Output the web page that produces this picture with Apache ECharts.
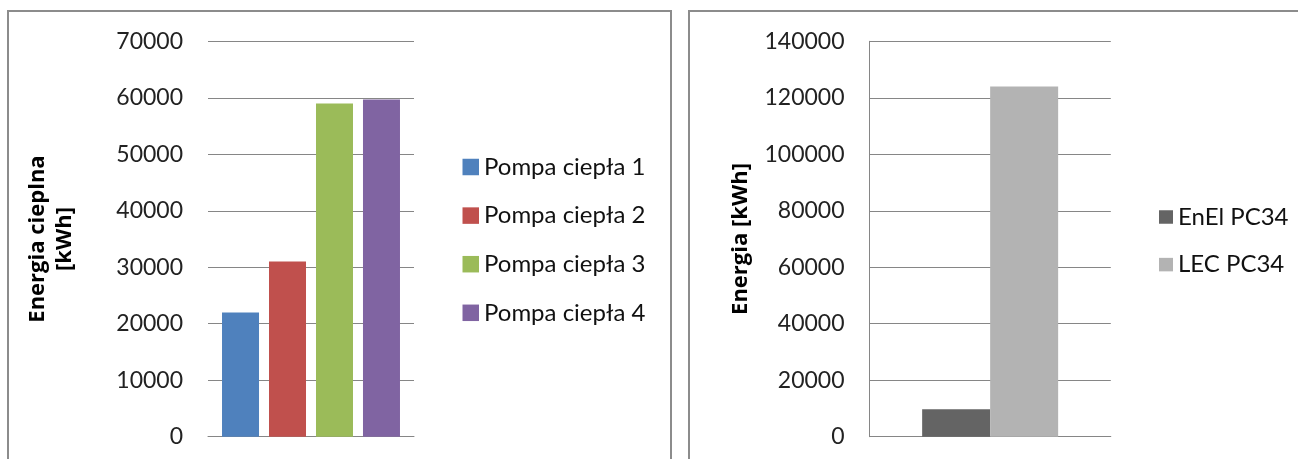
<!DOCTYPE html>
<html><head><meta charset="utf-8">
<script src="https://cdn.jsdelivr.net/npm/echarts@6/dist/echarts.min.js"></script>
<style>html,body{margin:0;padding:0;background:#fff}#c{width:1298px;height:459px}</style>
</head><body><div id="c"></div>
<script>
const pumpNames = ['Pompa ciepła 1','Pompa ciepła 2','Pompa ciepła 3','Pompa ciepła 4'];
const pumpValues = [22000, 31000, 59000, 59700];
const pumpColors = ['#4F81BD','#C0504D','#9BBB59','#8064A2'];
const energyNames = ['EnEl PC34','LEC PC34'];
const energyValues = [9700, 124000];
const energyColors = ['#646464','#B3B3B3'];
const leftAxisName = 'Energia cieplna\n[kWh]';
const rightAxisName = 'Energia [kWh]';

const FONT = 'Lato';
const NAMEFONT = 'Open Sans';
const grid = '#868686';
const series = [];
pumpNames.forEach((n,i)=>series.push({name:n,type:'bar',xAxisIndex:0,yAxisIndex:0,data:[pumpValues[i]],
  barWidth:37,barGap:'27%',itemStyle:{color:pumpColors[i]}}));
energyNames.forEach((n,i)=>series.push({name:n,type:'bar',xAxisIndex:1,yAxisIndex:1,data:[energyValues[i]],
  barWidth:68,barGap:'0%',itemStyle:{color:energyColors[i]}}));

const yCommon = {type:'value',min:0,
  axisTick:{show:false},
  axisLabel:{margin:25,fontSize:23,color:'#222',fontFamily:FONT,formatter:v=>String(v)},
  splitLine:{lineStyle:{color:grid,width:1}},
  nameLocation:'middle',nameRotate:90,
  nameTextStyle:{fontSize:22,fontWeight:'bold',color:'#000',fontFamily:NAMEFONT,align:'center',verticalAlign:'middle',lineHeight:27}};
const xCommon = {type:'category',data:[''],axisTick:{show:false},axisLabel:{show:false},
  axisLine:{lineStyle:{color:grid}}};

const option = {
  animation:false,
  textStyle:{fontFamily:FONT},
  graphic:[
    {type:'rect',shape:{x:8,y:11,width:663,height:500},style:{fill:'none',stroke:'#8c8c8c',lineWidth:2}},
    {type:'rect',shape:{x:689,y:11,width:700,height:500},style:{fill:'none',stroke:'#8c8c8c',lineWidth:2}}
  ],
  grid:[{left:208,top:41.3,width:206,height:395.4},{left:869.5,top:41.3,width:241.3,height:395.4}],
  xAxis:[Object.assign({gridIndex:0},xCommon),Object.assign({gridIndex:1},xCommon)],
  yAxis:[
    Object.assign({},yCommon,{gridIndex:0,max:70000,interval:10000,name:leftAxisName,nameGap:157,axisLine:{show:false}}),
    Object.assign({},yCommon,{gridIndex:1,max:140000,interval:20000,name:rightAxisName,nameGap:129,axisLine:{show:true,lineStyle:{color:grid}}})
  ],
  legend:[
    {data:pumpNames,orient:'vertical',left:457.5,top:150,itemWidth:16.5,itemHeight:16.5,itemGap:24.6,icon:'rect',
     textStyle:{fontSize:24,lineHeight:24,color:'#111',fontFamily:FONT}},
    {data:energyNames,orient:'vertical',left:1154,top:200,itemWidth:14,itemHeight:13.5,itemGap:23.6,icon:'rect',
     textStyle:{fontSize:24,lineHeight:24,color:'#111',fontFamily:FONT}}
  ],
  series:series
};
echarts.init(document.getElementById('c')).setOption(option);
</script></body></html>
